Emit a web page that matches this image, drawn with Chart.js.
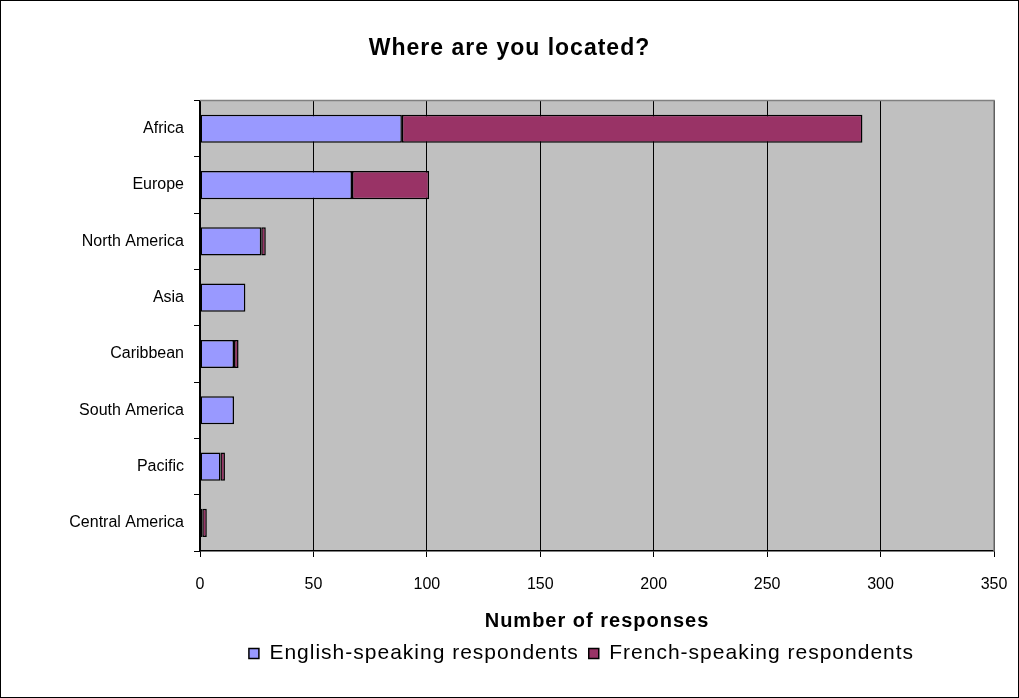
<!DOCTYPE html>
<html>
<head>
<meta charset="utf-8">
<script src="https://cdn.jsdelivr.net/npm/chart.js@4"></script>
<style>
    html, body { margin: 0; padding: 0; background: #fff; }
    #wrap { width: 1019px; height: 698px; }
</style>
</head>
<body>
<div id="wrap"><canvas id="regionChart" width="1019" height="698"></canvas></div>
<script>
const regions = ['Africa', 'Europe', 'North America', 'Asia', 'Caribbean', 'South America', 'Pacific', 'Central America'];
const englishCounts = [89, 67, 27, 20, 15, 15, 9, 1];
const frenchCounts = [203, 34, 2, 0, 2, 0, 2, 2];
const xTicks = [0, 50, 100, 150, 200, 250, 300, 350];

const FONT = 'Arial, "Liberation Sans", sans-serif';

// title, axis title and legend get spaced-out lettering; tick labels
// (z: 1, drawn after the bars) go back to normal spacing
const spacingPlugin = {
    id: 'spacing',
    beforeLayout(chart) { chart.ctx.letterSpacing = '1px'; },
    beforeDraw(chart) { chart.ctx.letterSpacing = '1px'; },
    afterDatasetsDraw(chart) { chart.ctx.letterSpacing = '0px'; },
    afterLayout(chart) {
        // legend sits a little right of centre
        const lg = chart.legend;
        lg.left += 72;
        lg.right += 72;
    }
};

// grey plot background plus the thin frame round the whole chart
const framePlugin = {
    id: 'frame',
    beforeDraw(chart) {
        const { ctx, chartArea: a } = chart;
        ctx.save();
        ctx.fillStyle = '#fff';
        ctx.fillRect(0, 0, chart.width, chart.height);
        ctx.fillStyle = '#C0C0C0';
        ctx.fillRect(a.left, a.top, a.right - a.left, a.bottom - a.top);
        ctx.restore();
    },
    afterDraw(chart) {
        const { ctx, chartArea: a } = chart;
        ctx.save();
        ctx.strokeStyle = '#808080';
        ctx.lineWidth = 1.5;
        ctx.beginPath();
        ctx.moveTo(a.left, a.top);
        ctx.lineTo(a.right, a.top);
        ctx.lineTo(a.right, a.bottom);
        ctx.stroke();
        ctx.strokeStyle = '#000';
        ctx.lineWidth = 1;
        ctx.strokeRect(0.5, 0.5, chart.width - 1, chart.height - 1);
        ctx.restore();
    }
};

const ctx = document.getElementById('regionChart').getContext('2d');
new Chart(ctx, {
    type: 'bar',
    data: {
        labels: regions,
        datasets: [{
            label: 'English-speaking respondents',
            data: englishCounts,
            backgroundColor: '#9999FF',
            borderColor: '#000',
            borderWidth: 1.5,
            borderSkipped: false,
            barPercentage: 0.5,
            categoryPercentage: 1
        }, {
            label: 'French-speaking respondents',
            data: frenchCounts,
            backgroundColor: '#993366',
            borderColor: '#000',
            borderWidth: 1.5,
            borderSkipped: false,
            barPercentage: 0.5,
            categoryPercentage: 1
        }]
    },
    options: {
        indexAxis: 'y',
        responsive: false,
        animation: false,
        layout: { padding: { top: 0, left: 0, right: 0, bottom: 24 } },
        plugins: {
            title: {
                display: true,
                text: 'Where are you located?',
                color: '#000',
                font: { family: FONT, size: 23, weight: 'bold' },
                padding: { top: 35, bottom: 38 }
            },
            legend: {
                position: 'bottom',
                labels: {
                    color: '#000',
                    font: { family: FONT, size: 21 },
                    boxWidth: 10,
                    boxHeight: 10,
                    padding: 10
                }
            },
            tooltip: { enabled: false }
        },
        scales: {
            x: {
                stacked: true,
                min: 0,
                max: 350,
                afterBuildTicks(scale) {
                    scale.ticks = xTicks.map(v => ({ value: v }));
                },
                afterFit(scale) {
                    scale.height = 82;
                    scale.paddingLeft = 0;
                    scale.paddingRight = 25;
                },
                grid: { color: '#000', tickLength: 6, lineWidth: 1 },
                border: { color: '#000', width: 1.5 },
                ticks: { color: '#000', font: { family: FONT, size: 16 }, padding: 18, z: 1 },
                title: {
                    display: true,
                    text: 'Number of responses',
                    color: '#000',
                    font: { family: FONT, size: 20, weight: 'bold' },
                    padding: { top: 4, bottom: 0 }
                }
            },
            y: {
                stacked: true,
                afterFit(scale) {
                    scale.width = 200;
                    scale.paddingTop = 0;
                    scale.paddingBottom = 0;
                },
                grid: { drawOnChartArea: false, color: '#000', tickLength: 6, offset: true },
                border: { color: '#000', width: 1.5 },
                ticks: { color: '#000', font: { family: FONT, size: 16 }, padding: 10, z: 1 }
            }
        }
    },
    plugins: [spacingPlugin, framePlugin]
});
</script>
</body>
</html>
